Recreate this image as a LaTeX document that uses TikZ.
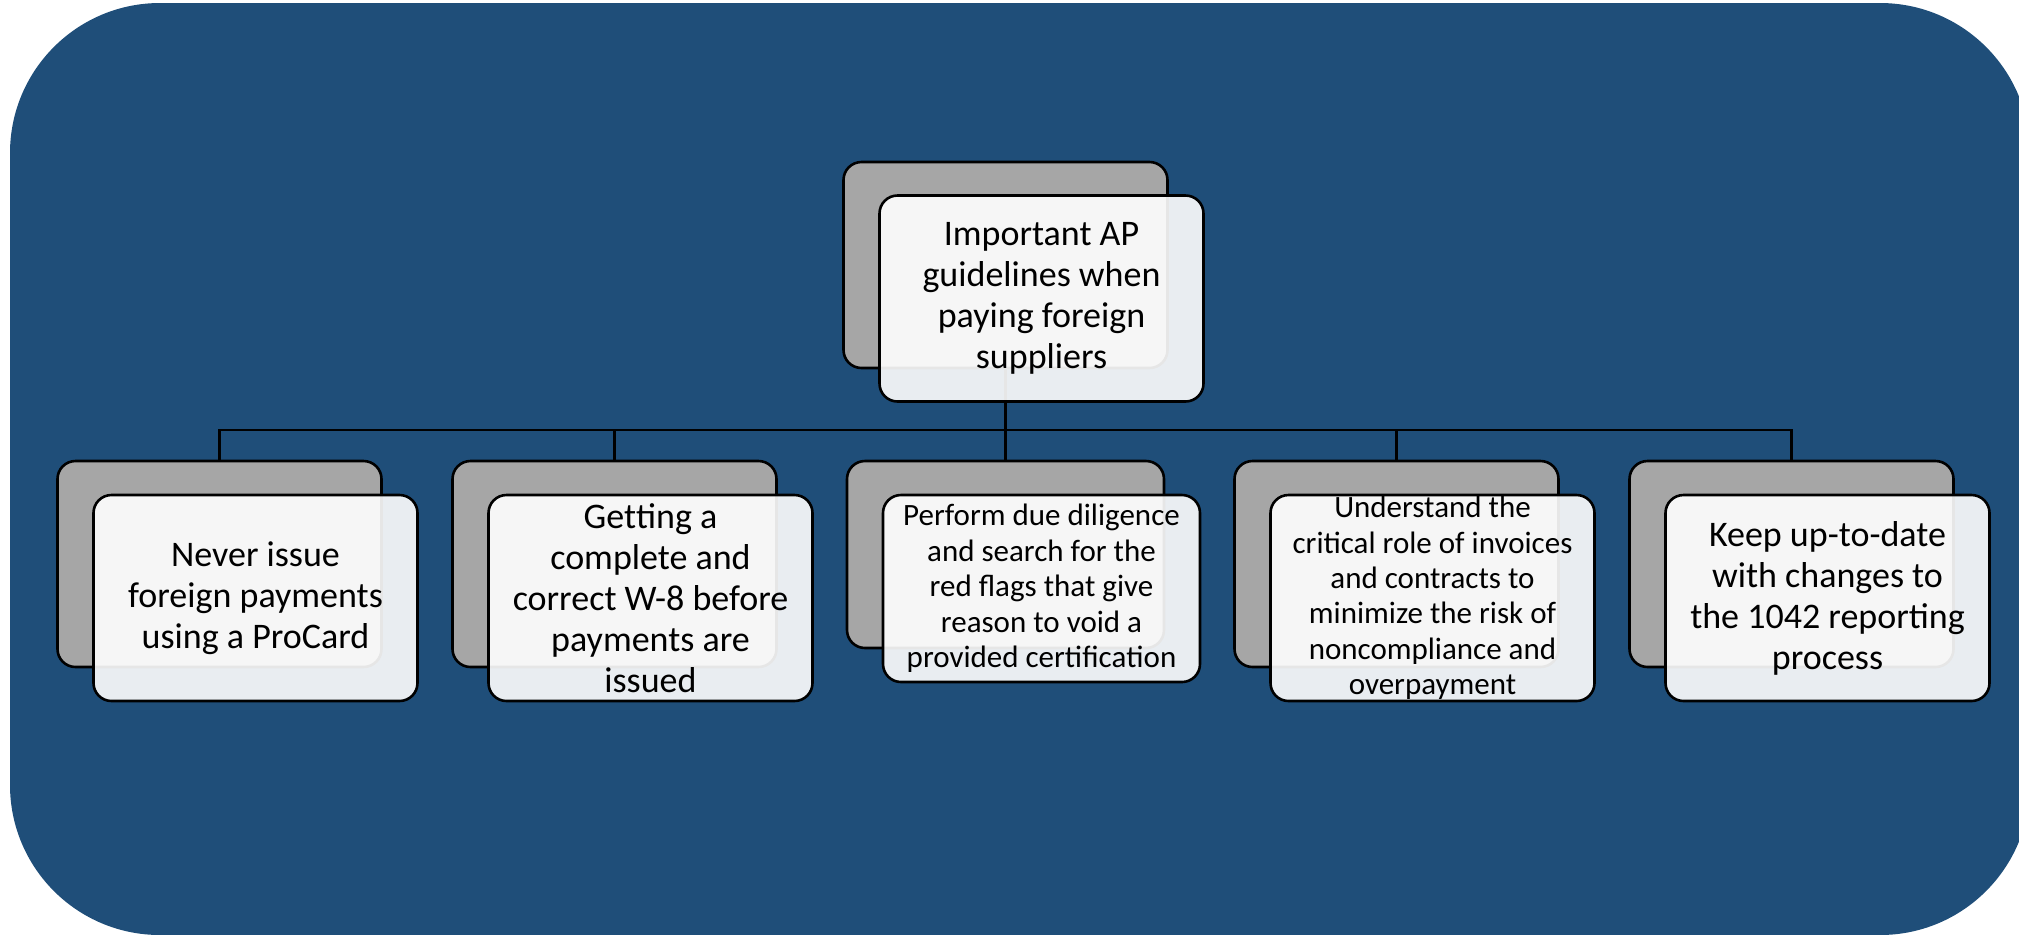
\documentclass[tikz,border=0pt]{standalone}
\usepackage{fontspec}
\setmainfont{Carlito}
\usepackage{tikz}
\usetikzlibrary{calc}
\definecolor{ap_blue}{RGB}{31, 78, 121}
\definecolor{ap_grey}{RGB}{166, 166, 166}
\tikzstyle{bk}=[rectangle,rounded corners=9pt,fill=ap_grey,draw=black,
  line width=1.3pt,inner sep=0pt,minimum width=162pt,minimum height=103pt]
\tikzstyle{fr}=[rectangle,rounded corners=9pt,fill=white,fill opacity=0.9,
  text opacity=1,draw=black,line width=1.3pt,inner sep=0pt,align=center,
  minimum width=162pt,minimum height=103pt,
  font=\fontsize{18}{20.5}\selectfont]
\tikzstyle{frsmall}=[fr,font=\fontsize{15.5}{17.7}\selectfont]
% no t-i ligature, as in the original
\newcommand{\nolig}{\kern0pt}

\begin{document}
\begin{tikzpicture}[x=0.5pt,y=-0.5pt]
        \useasboundingbox (0,0) rectangle (2019,934);
        \clip (0,0) rectangle (2019,934);
        \fill[ap_blue,rounded corners=75pt] (10,3) rectangle (2030,935);
        % back cards
        \node[style=bk] (rootbk) at (1005.5, 265) {};
		\node[style=bk] (c1bk) at (219.5, 564) {};
		\node[style=bk] (c2bk) at (614.5, 564) {};
		\node[style=bk, minimum width=158.5pt, minimum height=93.5pt] (c3bk) at (1005.5, 554.5) {};
		\node[style=bk] (c4bk) at (1396.5, 564) {};
		\node[style=bk] (c5bk) at (1791.5, 564) {};
        \coordinate (bus) at (1005.5, 430);
        \draw[line width=1.3pt] (rootbk.south) to (c3bk.north);
		\draw[line width=1.3pt] (c1bk.north) |- (bus);
		\draw[line width=1.3pt] (c2bk.north) |- (bus);
		\draw[line width=1.3pt] (c4bk.north) |- (bus);
		\draw[line width=1.3pt] (c5bk.north) |- (bus);
        % front cards
        \node[style=fr] (root) at (1041.5, 298.5) {Important AP\\guidelines when\\paying foreign\\suppliers};
		\node[style=fr] (c1) at (255.5, 598) {Never issue\\foreign payments\\using a ProCard};
		\node[style=fr] (c2) at (650.5, 598) {Get\nolig ting a\\complete and\\correct W-8 before\\payments are\\issued};
		\node[style=frsmall, minimum width=158.5pt, minimum height=93.5pt] (c3) at (1041.5, 588.5) {Perform due diligence\\and search for the\\red flags that give\\reason to void a\\provided certifica\nolig tion};
		\node[style=frsmall] (c4) at (1432.5, 598) {Understand the\\critical role of invoices\\and contracts to\\minimize the risk of\\noncompliance and\\overpayment};
		\node[style=fr] (c5) at (1827.5, 598) {Keep up-to-date\\with changes to\\the 1042 repor\nolig ting\\process};
    \end{tikzpicture}
\end{document}
